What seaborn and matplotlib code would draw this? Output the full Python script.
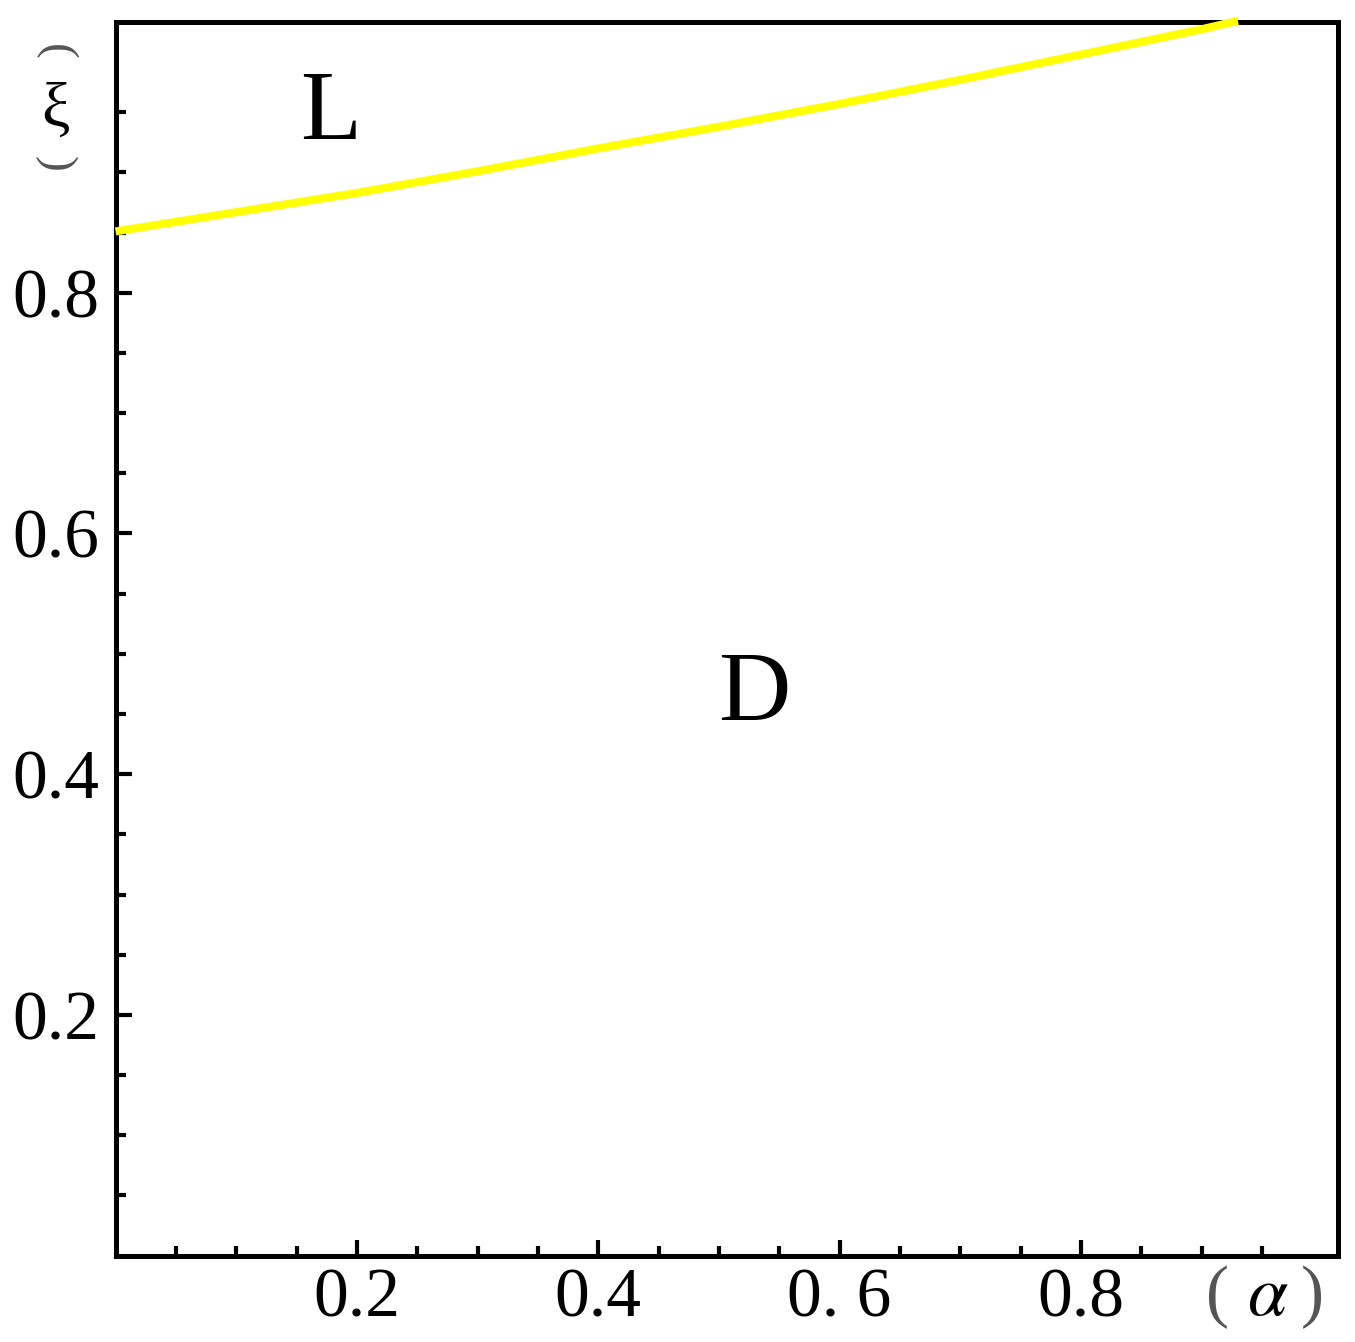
import numpy as np
import pandas as pd
import matplotlib
matplotlib.use("Agg")
import matplotlib.pyplot as plt
import seaborn as sns
from matplotlib.ticker import FixedLocator, FixedFormatter

# boundary curve between regions L and D
alpha = [0.0, 0.1, 0.2, 0.3, 0.4, 0.5, 0.6, 0.7, 0.8, 0.9, 0.93]
xi = [0.851, 0.867, 0.883, 0.901, 0.920, 0.938, 0.957, 0.977, 0.998, 1.019, 1.026]

x_major = [0.2, 0.4, 0.6, 0.8]
x_labels = ["0.2", "0.4", "0. 6", "0.8"]
y_major = [0.2, 0.4, 0.6, 0.8]
y_labels = ["0.2", "0.4", "0.6", "0.8"]
minor_ticks = [0.05, 0.1, 0.15, 0.25, 0.3, 0.35, 0.45, 0.5, 0.55,
               0.65, 0.7, 0.75, 0.85, 0.9, 0.95]

sns.set_style("ticks")
plt.rcParams["font.family"] = ["Liberation Serif", "DejaVu Serif"]
plt.rcParams["mathtext.fontset"] = "stix"
plt.rcParams["text.color"] = "black"
plt.rcParams["xtick.labelcolor"] = "black"
plt.rcParams["ytick.labelcolor"] = "black"

df = pd.DataFrame({"alpha": alpha, "xi": xi})

fig = plt.figure(figsize=(13.55, 13.42), dpi=100)
ax = fig.add_axes([0.0853, 0.0644, 0.9022, 0.9192])

sns.lineplot(data=df, x="alpha", y="xi", color="#FFFF00", linewidth=5.8,
             ax=ax, clip_on=False, zorder=3, solid_capstyle="butt")

ax.set_xlim(0, 1.013)
ax.set_ylim(0, 1.025)

ax.xaxis.set_major_locator(FixedLocator(x_major))
ax.xaxis.set_major_formatter(FixedFormatter(x_labels))
ax.xaxis.set_minor_locator(FixedLocator(minor_ticks))
ax.yaxis.set_major_locator(FixedLocator(y_major))
ax.yaxis.set_major_formatter(FixedFormatter(y_labels))
ax.yaxis.set_minor_locator(FixedLocator(minor_ticks))

ax.tick_params(which="both", direction="in", color="black", width=3,
               top=False, right=False, labelcolor="black")
ax.tick_params(which="major", length=11.5)
ax.tick_params(which="minor", length=7.5)
ax.tick_params(axis="x", which="major", labelsize=50, pad=9)
ax.tick_params(axis="y", which="major", labelsize=50, pad=12)

for s in ax.spines.values():
    s.set_visible(True)
    s.set_linewidth(3.6)
    s.set_color("black")

ax.set_xlabel("")
ax.set_ylabel("")

# region labels
ax.text(0.178, 0.928, "L", fontsize=72, ha="center", va="baseline", color="black")
ax.text(0.529, 0.445, "D", fontsize=72, ha="center", va="baseline", color="black")

# axis name (alpha), bottom right
ax.text(0.913, -0.035, "(", fontsize=50, ha="center", va="center",
        color="#555555", clip_on=False)
ax.text(0.955, -0.035, r"$\alpha$", fontsize=52, ha="center", va="center",
        color="black", clip_on=False)
ax.text(0.992, -0.035, ")", fontsize=50, ha="center", va="center",
        color="#555555", clip_on=False)

# axis name (xi), set vertically: parentheses turned on their side
fig.text(0.0406, 1 - 52 / 1342, "(", fontsize=34, rotation=-90,
         rotation_mode="anchor", ha="center", va="center", color="#555555")
fig.text(0.0406, 1 - 112 / 1342, "ξ", fontsize=46, ha="center", va="center",
         color="black")
fig.text(0.0406, 1 - 164 / 1342, ")", fontsize=34, rotation=-90,
         rotation_mode="anchor", ha="center", va="center", color="#555555")

fig.savefig("out.png", dpi=100)
